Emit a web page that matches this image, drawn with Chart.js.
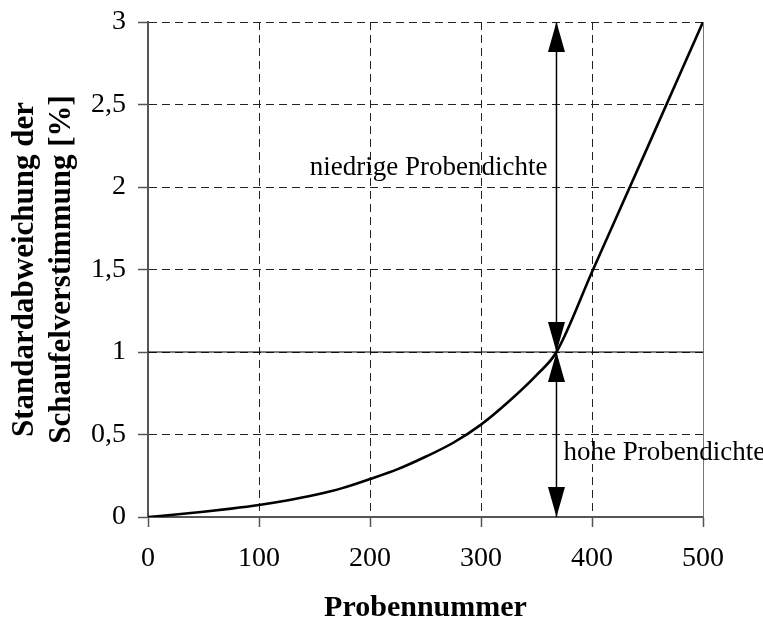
<!DOCTYPE html>
<html>
<head>
<meta charset="utf-8">
<script src="https://cdn.jsdelivr.net/npm/chart.js@4.4.0/dist/chart.umd.min.js"></script>
<style>
  html, body { margin: 0; padding: 0; background: #fff; }
  #wrap { width: 763px; height: 622px; }
</style>
</head>
<body>
<div id="wrap"><canvas id="chart"></canvas></div>
<script>
// Probennummer vs. Standardabweichung
const probeNr = [0, 25, 50, 75, 100, 125, 150, 175, 200, 225, 250, 275, 300, 325, 350, 368, 400, 450, 500];
const stdAbw = [0, 0.015, 0.032, 0.051, 0.073, 0.1, 0.133, 0.175, 0.23, 0.29, 0.365, 0.45, 0.56, 0.7, 0.86, 1.0, 1.485, 2.24, 3.0];

const xTickLabels = ['0', '100', '200', '300', '400', '500'];
const yTickLabels = ['0', '0,5', '1', '1,5', '2', '2,5', '3'];

// Grenze zwischen hoher und niedriger Probendichte
const refLevel = 1;
const arrowX = 368;
const arrowLevels = [0, 1, 3];
const labelHigh = 'niedrige Probendichte';
const labelLow = 'hohe Probendichte';
const labelHighY = 2.07;
const labelLowY = 0.345;

const serif = "'Liberation Serif', 'Times New Roman', serif";

const arrowPlugin = {
  id: 'arrows',
  afterDatasetsDraw(chart) {
    const { ctx, chartArea, scales: { x, y } } = chart;
    const px = x.getPixelForValue(arrowX);
    const [yBot, yMid, yTop] = arrowLevels.map(v => y.getPixelForValue(v));

    ctx.save();
    // right frame edge
    ctx.strokeStyle = '#777';
    ctx.lineWidth = 1;
    ctx.beginPath();
    ctx.moveTo(chartArea.right + 0.5, chartArea.top);
    ctx.lineTo(chartArea.right + 0.5, chartArea.bottom);
    ctx.stroke();

    // vertical arrow shaft
    ctx.strokeStyle = '#000';
    ctx.lineWidth = 1.5;
    ctx.beginPath();
    ctx.moveTo(px, yTop);
    ctx.lineTo(px, yBot);
    ctx.stroke();

    const head = (tipY, dir) => {
      ctx.beginPath();
      ctx.moveTo(px, tipY);
      ctx.lineTo(px - 8.5, tipY - dir * 30);
      ctx.lineTo(px + 8.5, tipY - dir * 30);
      ctx.closePath();
      ctx.fill();
    };
    ctx.fillStyle = '#000';
    head(yTop, -1);
    head(yMid, 1);
    head(yMid, -1);
    head(yBot, 1);

    ctx.font = '27px ' + serif;
    ctx.textBaseline = 'alphabetic';
    ctx.textAlign = 'right';
    ctx.fillText(labelHigh, px - 9, y.getPixelForValue(labelHighY));
    ctx.textAlign = 'left';
    ctx.fillText(labelLow, px + 7, y.getPixelForValue(labelLowY));
    ctx.restore();
  }
};

const ctx = document.getElementById('chart').getContext('2d');
new Chart(ctx, {
  type: 'line',
  data: {
    datasets: [
      {
        data: probeNr.map((v, i) => ({ x: v, y: stdAbw[i] })),
        borderColor: '#000',
        borderWidth: 2.6,
        pointRadius: 0,
        cubicInterpolationMode: 'monotone',
        fill: false
      },
      {
        data: [{ x: 0, y: refLevel }, { x: 500, y: refLevel }],
        borderColor: '#000',
        borderWidth: 1.2,
        pointRadius: 0,
        fill: false
      }
    ]
  },
  options: {
    responsive: true,
    maintainAspectRatio: false,
    animation: false,
    layout: { padding: { top: 22, right: 60, bottom: 0, left: 0 } },
    plugins: {
      legend: { display: false },
      tooltip: { enabled: false }
    },
    scales: {
      x: {
        type: 'linear',
        min: 0,
        max: 500,
        afterFit: s => { s.height = 105; },
        ticks: {
          stepSize: 100,
          padding: 15,
          color: '#000',
          font: { family: serif, size: 28 },
          maxRotation: 0,
          autoSkip: false,
          callback: (v, i) => xTickLabels[i]
        },
        grid: { color: '#222', lineWidth: 1, tickLength: 10, tickColor: '#555', tickWidth: 1.5 },
        border: { display: true, color: '#555', width: 2, dash: [8, 5] },
        title: {
          display: true,
          text: 'Probennummer',
          color: '#000',
          font: { family: serif, size: 30, weight: 'bold', lineHeight: 0.9 },
          padding: { top: 0, bottom: 0 }
        }
      },
      y: {
        min: 0,
        max: 3,
        afterFit: s => { s.width = 148; s.paddingTop = 0; s.paddingBottom = 0; },
        ticks: {
          stepSize: 0.5,
          padding: 12,
          color: '#000',
          font: { family: serif, size: 28 },
          callback: (v, i) => yTickLabels[i]
        },
        grid: { color: '#222', lineWidth: 1, tickLength: 10, tickColor: '#555', tickWidth: 1.5 },
        border: { display: true, color: '#555', width: 2, dash: [8, 5] },
        title: {
          display: true,
          text: ['Standardabweichung der', 'Schaufelverstimmung [%]'],
          color: '#000',
          font: { family: serif, size: 31, weight: 'bold', lineHeight: 1.2 },
          padding: { top: 6, bottom: 0 }
        }
      }
    }
  },
  plugins: [arrowPlugin]
});
</script>
</body>
</html>
